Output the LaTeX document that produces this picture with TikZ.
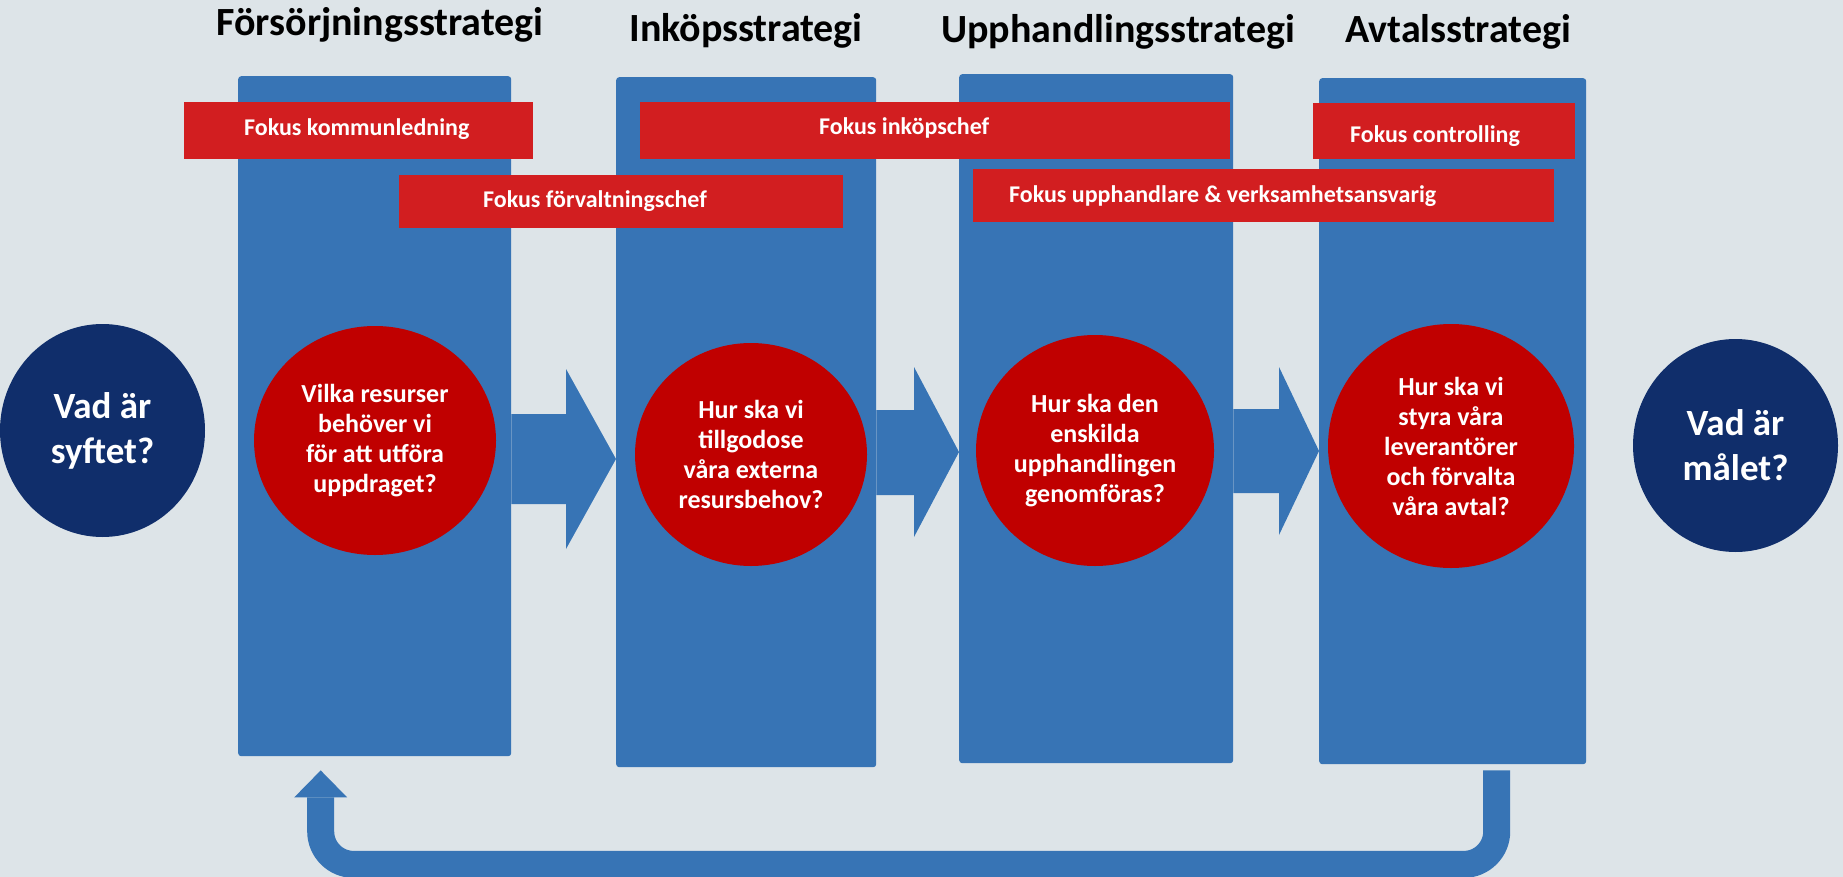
\documentclass[tikz,border=0pt]{standalone}
\usepackage{fontspec}
\setmainfont{Carlito}
\usetikzlibrary{calc,shapes.geometric}
\definecolor{bg}{RGB}{221,228,232}
\definecolor{colblue}{RGB}{55,116,181}
\definecolor{boxred}{RGB}{210,30,32}
\definecolor{circred}{RGB}{192,0,0}
\definecolor{navy}{RGB}{16,46,107}
% #1 from #2 to #3 headlen #4 head top #5 shaft top #6 tip #7 shaft bottom #8 head bottom
\newcommand\blockarrow[8]{%
  \path[fill=colblue] let \p1=(#1.east), \p2=(#2.west) in
    (\x1,-#5pt) -- (\x2-#3pt,-#5pt) -- (\x2-#3pt,-#4pt) -- (\x2,-#6pt)
    -- (\x2-#3pt,-#8pt) -- (\x2-#3pt,-#7pt) -- (\x1,-#7pt) -- cycle;}
\begin{document}
\begin{tikzpicture}[x=1pt,y=-1pt,
  col/.style={fill=colblue, rounded corners=3pt, inner sep=0, anchor=north west},
  redbox/.style={fill=boxred, inner sep=0, anchor=north west},
  boxtext/.style={text=white, font=\fontsize{24}{29}\selectfont\bfseries, anchor=base west, inner sep=0},
  title/.style={font=\fontsize{40}{48}\selectfont\bfseries, anchor=base, inner sep=0},
  qcirc/.style={ellipse, fill=circred, inner sep=0, text=white, align=center,
    font=\fontsize{26}{30}\selectfont\bfseries},
  ncirc/.style={ellipse, fill=navy, inner sep=0, text=white, align=center,
    font=\fontsize{37}{45}\selectfont\bfseries}]
\useasboundingbox (0,0) rectangle (1843,877);
\fill[bg] (0,0) rectangle (1843,877);

% titles
\node[title] (t1) at (380,36) {Försörjningsstrategi};
\node[title] (t2) at (746,42) {Inköpsstrategi};
\node[title] (t3) at (1118,43) {Upphandlingsstrategi};
\node[title] (t4) at (1458,43) {Avtalsstrategi};

% columns
\node[col, minimum width=273, minimum height=680] (c1) at (238,76) {};
\node[col, minimum width=260, minimum height=690] (c2) at (616,77) {};
\node[col, minimum width=274, minimum height=689] (c3) at (959,74) {};
\node[col, minimum width=267, minimum height=686] (c4) at (1319,78) {};

% red focus boxes
\node[redbox, minimum width=349, minimum height=57] (b1) at (184,102) {};
\node[redbox, minimum width=444, minimum height=53] (b2) at (399,175) {};
\node[redbox, minimum width=590, minimum height=57] (b3) at (640,102) {};
\node[redbox, minimum width=262, minimum height=56] (b4) at (1313,103) {};
\node[redbox, minimum width=581, minimum height=53] (b5) at (973,169) {};
\node[boxtext] (l1) at (244,136) {Fokus kommunledning};
\node[boxtext] (l2) at (483,208) {Fokus förvaltningschef};
\node[boxtext] (l3) at (819,135) {Fokus inköpschef};
\node[boxtext] (l4) at (1350,143) {Fokus controlling};
\node[boxtext] (l5) at (1009,203) {Fokus upphandlare \& verksamhetsansvarig};

% block arrows between columns
\blockarrow{c1}{c2}{50}{369}{414}{459}{504}{549}
\blockarrow{c2}{c3}{45}{367}{410}{452}{495}{537}
\blockarrow{c3}{c4}{40}{367}{409}{451}{493}{535}

% circles
\node[ncirc, minimum width=205, minimum height=213] (s) at (102.5,430.5) {Vad är\\syftet?};
\node[ncirc, minimum width=205, minimum height=213] (m) at (1735.5,445.5) {Vad är\\målet?};
\node[qcirc, minimum width=242, minimum height=229] (q1) at (375,440.5)
  {Vilka resurser\\behöver vi\\för att utföra\\uppdraget?};
\node[qcirc, minimum width=232, minimum height=223] (q2) at (751,454.5)
  {Hur ska vi\\tillgodose\\våra externa\\resursbehov?};
\node[qcirc, minimum width=238, minimum height=231] (q3) at (1095,450.5)
  {Hur ska den\\enskilda\\upphandlingen\\genomföras?};
\node[qcirc, minimum width=246, minimum height=244] (q4) at (1451,446)
  {Hur ska vi\\styra våra\\leverantörer\\och förvalta\\våra avtal?};

% return arrow
\coordinate (rs) at ($(c4.south)+(44,6)$);
\coordinate (re) at ($(c1.south)+(-54,14)$);
\draw[colblue, line width=27pt, rounded corners=33pt]
  (rs) -- ++(0,94) -| ($(re)+(0,27)$);
\fill[colblue] ($(re)+(-26.5,27)$) -- ($(re)+(26.5,27)$) -- (re) -- cycle;
\end{tikzpicture}
\end{document}
